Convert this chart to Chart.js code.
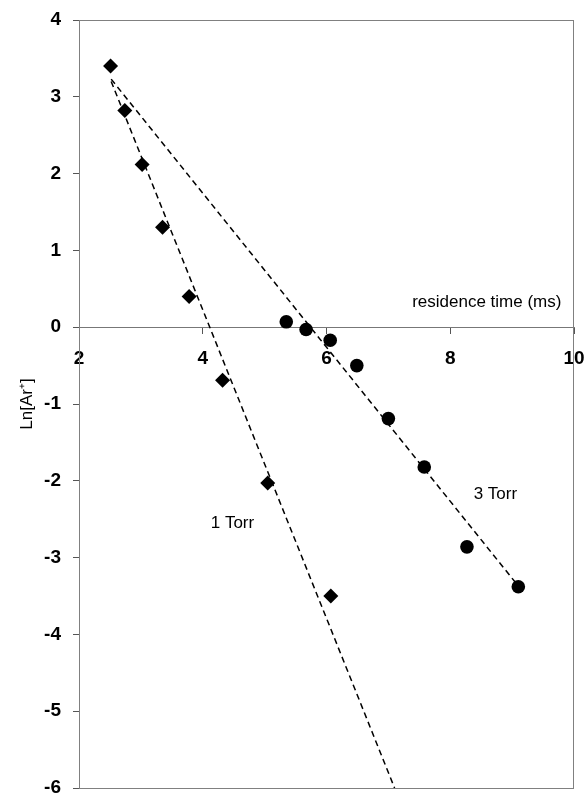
<!DOCTYPE html>
<html>
<head>
<meta charset="utf-8">
<script src="https://cdn.jsdelivr.net/npm/chart.js@4/dist/chart.umd.min.js"></script>
<style>
  html, body { margin: 0; padding: 0; background: #fff; }
  #wrap { width: 587px; height: 796px; }
</style>
</head>
<body>
<div id="wrap"><canvas id="c" width="587" height="796"></canvas></div>
<script>
// Residence time (ms) of each measurement
const timeTorr1 = [2.51, 2.74, 3.02, 3.35, 3.78, 4.32, 5.05, 6.07];
const lnArTorr1 = [3.40, 2.82, 2.12, 1.30, 0.40, -0.69, -2.03, -3.50];

const timeTorr3 = [5.35, 5.67, 6.06, 6.49, 7.00, 7.58, 8.27, 9.10];
const lnArTorr3 = [0.07, -0.03, -0.17, -0.50, -1.19, -1.82, -2.86, -3.38];

// Linear fits (end points of the dashed lines)
const fitTorr1X = [2.52, 7.10];
const fitTorr1Y = [3.20, -6.00];
const fitTorr3X = [2.52, 9.06];
const fitTorr3Y = [3.23, -3.33];

// Axis ranges
const xRange = [2, 10];
const yRange = [-6, 4];

// Text placed in the plot, anchored in data units
const plotNotes = [
  { text: 'residence time (ms)', x: 8.59, y: 0.33 },
  { text: '3 Torr', x: 8.73, y: -2.18 },
  { text: '1 Torr', x: 4.48, y: -2.55 }
];

const pts = (xs, ys) => xs.map((x, i) => ({ x, y: ys[i] }));

const AXIS_GRAY = '#555';

// Scales should not push the plot area inward for their edge labels
function noEdgePadding(scale) {
  scale.paddingLeft = 0;
  scale.paddingRight = 0;
  scale.paddingTop = 0;
  scale.paddingBottom = 0;
}

const frame = {
  id: 'frame',
  afterDatasetsDraw(chart) {
    const { ctx, chartArea: a } = chart;
    ctx.save();
    ctx.strokeStyle = '#808080';
    ctx.lineWidth = 1;
    ctx.strokeRect(a.left + 0.5, a.top + 0.5, a.right - a.left - 1, a.bottom - a.top);
    ctx.restore();
  },
  afterDraw(chart) {
    const { ctx, scales } = chart;
    ctx.save();
    ctx.fillStyle = '#000';
    ctx.font = '17px "Liberation Sans", Arial, sans-serif';
    ctx.textAlign = 'center';
    ctx.textBaseline = 'middle';
    plotNotes.forEach(n => {
      ctx.fillText(n.text, scales.x.getPixelForValue(n.x), scales.y.getPixelForValue(n.y));
    });
    ctx.restore();
  }
};

new Chart(document.getElementById('c'), {
  type: 'scatter',
  data: {
    datasets: [
      {
        label: '1 Torr fit', data: pts(fitTorr1X, fitTorr1Y), showLine: true,
        borderColor: '#000', borderWidth: 1.5, borderDash: [6, 4], pointRadius: 0, fill: false
      },
      {
        label: '3 Torr fit', data: pts(fitTorr3X, fitTorr3Y), showLine: true,
        borderColor: '#000', borderWidth: 1.5, borderDash: [6, 4], pointRadius: 0, fill: false
      },
      {
        label: '1 Torr', data: pts(timeTorr1, lnArTorr1), pointStyle: 'rectRot',
        pointRadius: 7.5, backgroundColor: '#000', borderColor: '#000', borderWidth: 0
      },
      {
        label: '3 Torr', data: pts(timeTorr3, lnArTorr3), pointStyle: 'circle',
        pointRadius: 6.8, backgroundColor: '#000', borderColor: '#000', borderWidth: 0
      }
    ]
  },
  options: {
    responsive: false,
    animation: false,
    events: [],
    layout: { padding: { left: 0, right: 13, top: 20, bottom: 8 } },
    plugins: { legend: { display: false }, tooltip: { enabled: false } },
    scales: {
      x: {
        type: 'linear',
        position: { y: 0 },
        min: xRange[0], max: xRange[1],
        afterFit: noEdgePadding,
        ticks: {
          stepSize: 2, color: '#000', padding: 14, maxRotation: 0,
          font: { family: '"Liberation Sans", Arial, sans-serif', size: 19, weight: 'bold' }
        },
        grid: { drawOnChartArea: false, drawTicks: true, tickLength: 6, color: AXIS_GRAY },
        border: { display: true, color: '#777', width: 1 }
      },
      y: {
        type: 'linear',
        position: 'left',
        min: yRange[0], max: yRange[1],
        afterFit(scale) { noEdgePadding(scale); scale.width = 79; },
        ticks: {
          stepSize: 1, color: '#000', padding: 12,
          font: { family: '"Liberation Sans", Arial, sans-serif', size: 19, weight: 'bold' }
        },
        grid: { drawOnChartArea: false, drawTicks: true, tickLength: 6, color: AXIS_GRAY },
        border: { display: true, color: '#444', width: 1 },
        title: {
          display: true, text: 'Ln[Ar\u207A]', color: '#000',
          font: { family: '"Liberation Sans", Arial, sans-serif', size: 17 },
          padding: { top: 17, bottom: 0 }
        }
      }
    }
  },
  plugins: [frame]
});
</script>
</body>
</html>
